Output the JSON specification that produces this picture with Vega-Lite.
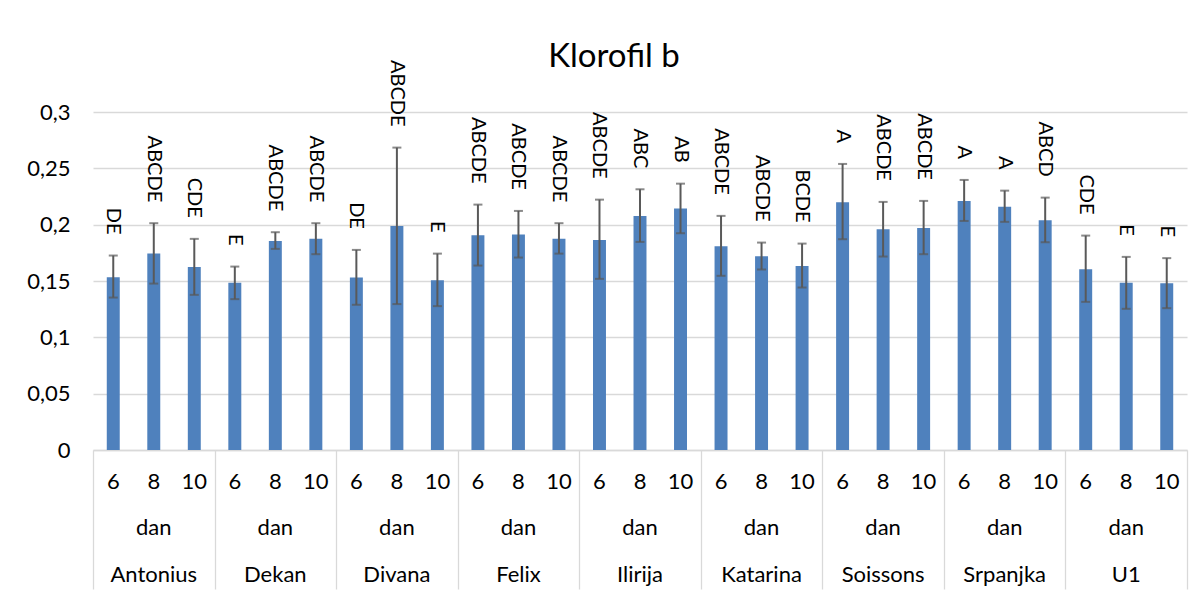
{
  "$schema": "https://vega.github.io/schema/vega-lite/v6.json",
  "width": 1094,
  "height": 338,
  "autosize": {"type": "none"},
  "padding": {"left": 93, "top": 112, "right": 17, "bottom": 146},
  "background": "white",
  "title": {"text": "Klorofil b", "fontSize": 33, "font": "Lato", "fontWeight": "normal", "color": "#000000", "anchor": "middle", "frame": "group", "offset": -40, "baseline": "alphabetic", "dx": -26},
  "config": {"view": {"stroke": null}, "font": "Lato"},
  "data": {"values": [
    {"variety": "Antonius", "day": "6", "mean": 0.1534, "lo": 0.1353, "hi": 0.1726, "label": "DE"},
    {"variety": "Antonius", "day": "8", "mean": 0.1743, "lo": 0.1477, "hi": 0.2013, "label": "ABCDE"},
    {"variety": "Antonius", "day": "10", "mean": 0.1625, "lo": 0.1377, "hi": 0.1874, "label": "CDE"},
    {"variety": "Dekan", "day": "6", "mean": 0.1484, "lo": 0.1339, "hi": 0.1628, "label": "E"},
    {"variety": "Dekan", "day": "8", "mean": 0.1856, "lo": 0.1785, "hi": 0.1933, "label": "ABCDE"},
    {"variety": "Dekan", "day": "10", "mean": 0.1874, "lo": 0.1738, "hi": 0.2013, "label": "ABCDE"},
    {"variety": "Divana", "day": "6", "mean": 0.1531, "lo": 0.1289, "hi": 0.1776, "label": "DE"},
    {"variety": "Divana", "day": "8", "mean": 0.1989, "lo": 0.1295, "hi": 0.2684, "label": "ABCDE"},
    {"variety": "Divana", "day": "10", "mean": 0.1507, "lo": 0.1277, "hi": 0.1743, "label": "E"},
    {"variety": "Felix", "day": "6", "mean": 0.1907, "lo": 0.1637, "hi": 0.2178, "label": "ABCDE"},
    {"variety": "Felix", "day": "8", "mean": 0.1912, "lo": 0.1708, "hi": 0.2122, "label": "ABCDE"},
    {"variety": "Felix", "day": "10", "mean": 0.1874, "lo": 0.1743, "hi": 0.2013, "label": "ABCDE"},
    {"variety": "Ilirija", "day": "6", "mean": 0.1865, "lo": 0.1519, "hi": 0.2222, "label": "ABCDE"},
    {"variety": "Ilirija", "day": "8", "mean": 0.2078, "lo": 0.1847, "hi": 0.2314, "label": "ABC"},
    {"variety": "Ilirija", "day": "10", "mean": 0.2143, "lo": 0.1924, "hi": 0.2364, "label": "AB"},
    {"variety": "Katarina", "day": "6", "mean": 0.1809, "lo": 0.1546, "hi": 0.2078, "label": "ABCDE"},
    {"variety": "Katarina", "day": "8", "mean": 0.1720, "lo": 0.1602, "hi": 0.1841, "label": "ABCDE"},
    {"variety": "Katarina", "day": "10", "mean": 0.1634, "lo": 0.1442, "hi": 0.1832, "label": "BCDE"},
    {"variety": "Soissons", "day": "6", "mean": 0.2199, "lo": 0.1871, "hi": 0.2539, "label": "A"},
    {"variety": "Soissons", "day": "8", "mean": 0.1960, "lo": 0.1717, "hi": 0.2202, "label": "ABCDE"},
    {"variety": "Soissons", "day": "10", "mean": 0.1971, "lo": 0.1738, "hi": 0.2211, "label": "ABCDE"},
    {"variety": "Srpanjka", "day": "6", "mean": 0.2211, "lo": 0.2033, "hi": 0.2397, "label": "A"},
    {"variety": "Srpanjka", "day": "8", "mean": 0.2160, "lo": 0.2025, "hi": 0.2302, "label": "A"},
    {"variety": "Srpanjka", "day": "10", "mean": 0.2040, "lo": 0.1844, "hi": 0.2240, "label": "ABCD"},
    {"variety": "U1", "day": "6", "mean": 0.1605, "lo": 0.1315, "hi": 0.1903, "label": "CDE"},
    {"variety": "U1", "day": "8", "mean": 0.1484, "lo": 0.1253, "hi": 0.1714, "label": "E"},
    {"variety": "U1", "day": "10", "mean": 0.1481, "lo": 0.1259, "hi": 0.1703, "label": "E"}
  ]},
  "transform": [{"calculate": "datum.variety + '|' + datum.day", "as": "key"}],
  "layer": [
    {
      "encoding": {
        "x": {
          "field": "key", "type": "nominal", "sort": null,
          "scale": {"type": "band", "paddingInner": 0.68, "paddingOuter": 0.34},
          "axis": {
            "orient": "bottom", "title": null, "ticks": false,
            "domainColor": "#d9d9d9", "domainWidth": 1.3,
            "labelAngle": 0, "labelFont": "Lato", "labelFontSize": 22, "labelColor": "#000000",
            "labelPadding": 21, "labelLineHeight": 46.5,
            "labelExpr": "split(datum.value, '|')[1] == '8' ? [split(datum.value, '|')[1], 'dan', split(datum.value, '|')[0]] : split(datum.value, '|')[1]"
          }
        }
      },
      "layer": [
        {
          "mark": {"type": "bar", "color": "#4f81bd"},
          "encoding": {
            "y": {
              "field": "mean", "type": "quantitative",
              "scale": {"domain": [0, 0.3], "nice": false},
              "axis": {
                "title": null, "values": [0, 0.05, 0.1, 0.15, 0.2, 0.25, 0.3],
                "labelExpr": "replace(format(datum.value, '.2~f'), '.', ',')",
                "domain": false, "ticks": false, "labelPadding": 23,
                "labelFont": "Lato", "labelFontSize": 22, "labelColor": "#000000",
                "gridColor": "#d9d9d9", "gridWidth": 1.3
              }
            }
          }
        },
        {
          "mark": {"type": "rule", "color": "#595959", "strokeWidth": 2},
          "encoding": {"y": {"field": "lo", "type": "quantitative"}, "y2": {"field": "hi"}}
        },
        {
          "mark": {"type": "tick", "color": "#595959", "thickness": 2, "size": 9},
          "encoding": {"y": {"field": "lo", "type": "quantitative"}}
        },
        {
          "mark": {"type": "tick", "color": "#595959", "thickness": 2, "size": 9},
          "encoding": {"y": {"field": "hi", "type": "quantitative"}}
        },
        {
          "mark": {"type": "text", "angle": 90, "align": "right", "baseline": "middle", "dx": -21, "font": "Lato", "fontSize": 20, "color": "#000000"},
          "encoding": {"y": {"field": "hi", "type": "quantitative"}, "text": {"field": "label"}}
        }
      ]
    },
    {
      "mark": {"type": "rule", "opacity": 0},
      "encoding": {
        "x": {
          "field": "variety", "type": "nominal", "sort": null,
          "scale": {"type": "band", "paddingInner": 0, "paddingOuter": 0},
          "axis": {
            "orient": "bottom", "title": null, "labels": false, "domain": false, "grid": false,
            "tickBand": "extent", "tickSize": 139, "tickColor": "#d9d9d9", "tickWidth": 1.3
          }
        }
      }
    }
  ],
  "resolve": {"scale": {"x": "independent"}, "axis": {"x": "independent"}}
}
